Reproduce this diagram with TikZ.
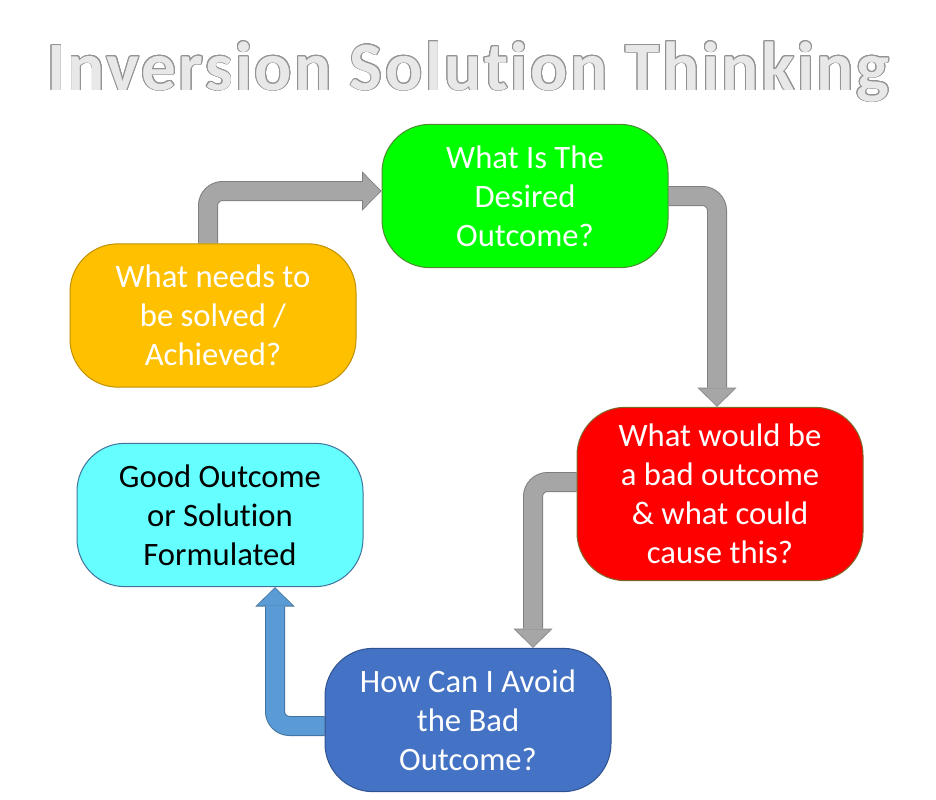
\documentclass[tikz,border=0pt]{standalone}
\usepackage{fontspec}
\setmainfont{Carlito}[Ligatures=CommonOff]
\usepackage{contour}
\usetikzlibrary{arrows.meta, backgrounds}
\definecolor{solvefill}{HTML}{FFC000}
\definecolor{solveedge}{HTML}{C09000}
\definecolor{desiredfill}{HTML}{00FF00}
\definecolor{desirededge}{HTML}{4E8B35}
\definecolor{badfill}{HTML}{FF0000}
\definecolor{badedge}{HTML}{7A6A2A}
\definecolor{goodfill}{HTML}{66FFFF}
\definecolor{goodedge}{HTML}{41719C}
\definecolor{avoidfill}{HTML}{4472C4}
\definecolor{avoidedge}{HTML}{2F528F}
\definecolor{pipegray}{HTML}{A6A6A6}
\definecolor{pipegrayedge}{HTML}{7F7F7F}
\definecolor{pipeblue}{HTML}{5B9BD5}
\definecolor{pipeblueedge}{HTML}{41719C}
\definecolor{titlefill}{HTML}{E8E8E8}
\definecolor{titleedge}{HTML}{939393}
\contourlength{0.7pt}
\tikzset{
qbox/.style={rectangle, rounded corners=36pt, minimum width=214.5pt, minimum height=107.5pt, align=center, text=white, line width=0.75pt, font=\fontsize{24.5}{29.25}\selectfont}, % the question boxes
pipe/.style 2 args={draw=#1, line width=13.5pt, rounded corners=11pt, -{Triangle[length=13pt, width=26.5pt, line width=0pt]}, shorten >=0.8pt, preaction={draw=#2, line width=15pt, -{Triangle[length=14.5pt, width=29.5pt, line width=0pt]}, shorten >=0pt}}, % thick bent arrows with an outline
}

\begin{document}
\begin{tikzpicture}[x=0.75pt, y=-0.75pt]
    \useasboundingbox (0,0) rectangle (936,800);

    \node[anchor=base, text=titlefill, font=\fontsize{52}{60}\selectfont\bfseries\addfontfeatures{LetterSpace=3.6}] (title) at (468,90)
        {\contour{titleedge}{Inversion Solution Thinking}};

    \node[qbox, fill=solvefill, draw=solveedge] (solve) at (213,315.5) {What needs to\\be solved /\\Achieved?};
    \node[qbox, fill=desiredfill, draw=desirededge] (desired) at (525,196) {What Is The\\Desired\\Outcome?};
    \node[qbox, fill=badfill, draw=badedge, minimum height=130pt] (bad) at (720,494) {What would be\\a bad outcome\\\& what could\\cause this?};
    \node[qbox, fill=goodfill, draw=goodedge, text=black] (good) at (220,515) {Good Outcome\\or Solution\\Formulated};
    \node[qbox, fill=avoidfill, draw=avoidedge] (avoid) at (468,720) {How Can I Avoid\\the Bad\\Outcome?};

    \begin{scope}[on background layer]
        \draw[pipe={pipegray}{pipegrayedge}] ([xshift=-3.75pt]solve.north) |- ([yshift=3.75pt]desired.west);
        \draw[pipe={pipegray}{pipegrayedge}] (desired.east) -| ([xshift=-2.25pt]bad.north);
        \draw[pipe={pipegray}{pipegrayedge}] ([yshift=9pt]bad.west) -| ([xshift=48.75pt]avoid.north);
        \draw[pipe={pipeblue}{pipeblueedge}] ([yshift=-4.5pt]avoid.west) -| ([xshift=41.25pt]good.south);
    \end{scope}
\end{tikzpicture}
\end{document}
